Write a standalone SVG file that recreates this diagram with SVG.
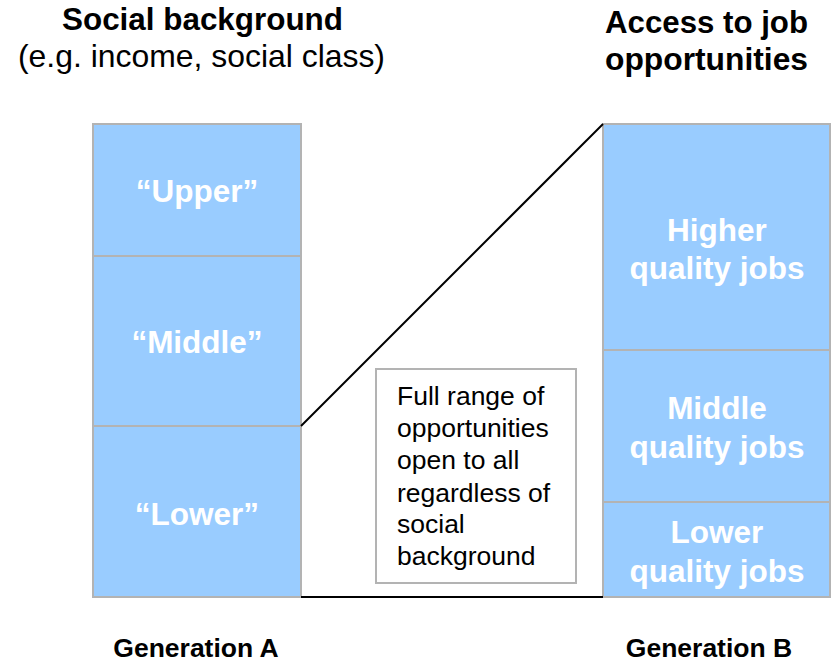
<svg xmlns="http://www.w3.org/2000/svg" width="831" height="663" viewBox="0 0 831 663">
<style>
.cell{fill:#99CCFF;stroke:#B3B3B3;stroke-width:2}
.lab{font-family:"Liberation Sans",Arial,sans-serif;font-weight:bold;font-size:31.5px;fill:#FFFFFF;text-anchor:middle}
.hd{font-family:"Liberation Sans",Arial,sans-serif;font-size:31.5px;fill:#000;text-anchor:middle}
.b{font-weight:bold}
.note{font-family:"Liberation Sans",Arial,sans-serif;font-size:26.5px;fill:#000}
.gen{font-family:"Liberation Sans",Arial,sans-serif;font-weight:bold;font-size:26.5px;fill:#000;text-anchor:middle}
</style>
<rect width="831" height="663" fill="#FFFFFF"/>
<g id="titles">
<text class="hd b" x="202.5" y="30" textLength="281" lengthAdjust="spacingAndGlyphs">Social background</text>
<text class="hd" x="201.5" y="67" textLength="367" lengthAdjust="spacingAndGlyphs">(e.g. income, social class)</text>
<text class="hd b" x="706.5" y="33" textLength="203" lengthAdjust="spacingAndGlyphs">Access to job</text>
<text class="hd b" x="706.5" y="70" textLength="203" lengthAdjust="spacingAndGlyphs">opportunities</text>
</g>
<g id="upper"><rect class="cell" x="93" y="124" width="208" height="132"/><text class="lab" x="197" y="202">“Upper”</text></g>
<g id="middle"><rect class="cell" x="93" y="256" width="208" height="170"/><text class="lab" x="197" y="353">“Middle”</text></g>
<g id="lower"><rect class="cell" x="93" y="426" width="208" height="171"/><text class="lab" x="197" y="525">“Lower”</text></g>
<g id="higher-jobs"><rect class="cell" x="603" y="124" width="227" height="226"/><text class="lab" x="717" y="241">Higher</text><text class="lab" x="717" y="279">quality jobs</text></g>
<g id="middle-jobs"><rect class="cell" x="603" y="350" width="227" height="152"/><text class="lab" x="717" y="419">Middle</text><text class="lab" x="717" y="458">quality jobs</text></g>
<g id="lower-jobs"><rect class="cell" x="603" y="502" width="227" height="95"/><text class="lab" x="717" y="543">Lower</text><text class="lab" x="717" y="582">quality jobs</text></g>
<g id="connectors" stroke="#000" stroke-width="2" fill="none">
<line x1="301" y1="426" x2="603" y2="124"/>
<line x1="301" y1="597" x2="603" y2="597"/>
</g>
<g id="note">
<rect x="376" y="369" width="200" height="214" fill="#FFFFFF" stroke="#B3B3B3" stroke-width="2"/>
<text class="note" x="397" y="405">Full range of</text>
<text class="note" x="397" y="437">opportunities</text>
<text class="note" x="397" y="469">open to all</text>
<text class="note" x="397" y="502">regardless of</text>
<text class="note" x="397" y="533">social</text>
<text class="note" x="397" y="565">background</text>
</g>
<g id="generations">
<text class="gen" x="196" y="657">Generation A</text>
<text class="gen" x="709" y="657">Generation B</text>
</g>
</svg>
